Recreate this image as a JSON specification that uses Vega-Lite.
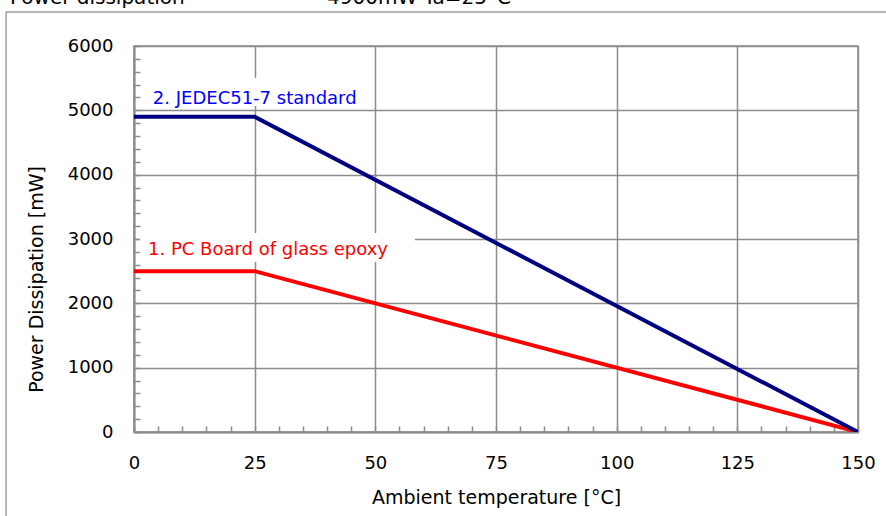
{
  "$schema": "https://vega.github.io/schema/vega-lite/v6.json",
  "width": 724,
  "height": 386,
  "autosize": {"type": "none"},
  "padding": {"left": 134, "top": 46, "right": 28, "bottom": 84},
  "background": "white",
  "config": {
    "font": "DejaVu Sans",
    "view": {"stroke": "#8c8c8c", "strokeWidth": 1.5}
  },
  "data": {
    "values": [
      {"series": "1. PC Board of glass epoxy", "temp": 0, "power": 2500},
      {"series": "1. PC Board of glass epoxy", "temp": 25, "power": 2500},
      {"series": "1. PC Board of glass epoxy", "temp": 150, "power": 0},
      {"series": "2. JEDEC51-7 standard", "temp": 0, "power": 4900},
      {"series": "2. JEDEC51-7 standard", "temp": 25, "power": 4900},
      {"series": "2. JEDEC51-7 standard", "temp": 150, "power": 0}
    ]
  },
  "layer": [
    {
      "mark": {"type": "line", "strokeWidth": 4, "clip": true},
      "encoding": {
        "x": {
          "field": "temp",
          "type": "quantitative",
          "scale": {"domain": [0, 150], "nice": false, "zero": false},
          "axis": {
            "title": "Ambient temperature [°C]",
            "values": [0,5,10,15,20,25,30,35,40,45,50,55,60,65,70,75,80,85,90,95,100,105,110,115,120,125,130,135,140,145,150],
            "tickCount": 60,
            "labelExpr": "datum.value % 25 === 0 ? datum.label : ''",
            "tickSize": -6,
            "tickColor": "#8c8c8c",
            "tickWidth": 1.5,
            "domainColor": "#8c8c8c",
            "domainWidth": 2,
            "gridColor": "#8c8c8c",
            "gridWidth": 1.5,
            "gridOpacity": {"condition": {"test": "datum.value % 25 === 0", "value": 1}, "value": 0},
            "labelFontSize": 18,
            "labelColor": "#000000",
            "labelBaseline": "alphabetic",
            "labelPadding": 42,
            "labelFlush": false,
            "labelOverlap": false,
            "titleFontSize": 19,
            "titleFontWeight": "normal",
            "titleColor": "#000000",
            "titleBaseline": "alphabetic",
            "titleY": 71
          }
        },
        "y": {
          "field": "power",
          "type": "quantitative",
          "scale": {"domain": [0, 6000], "nice": false, "zero": true},
          "axis": {
            "title": "Power Dissipation [mW]",
            "values": [0,200,400,600,800,1000,1200,1400,1600,1800,2000,2200,2400,2600,2800,3000,3200,3400,3600,3800,4000,4200,4400,4600,4800,5000,5200,5400,5600,5800,6000],
            "tickCount": 60,
            "labelExpr": "datum.value % 1000 === 0 ? datum.label : ''",
            "format": "d",
            "tickSize": -6,
            "tickColor": "#8c8c8c",
            "tickWidth": 1.5,
            "domainColor": "#8c8c8c",
            "domainWidth": 2,
            "gridColor": "#8c8c8c",
            "gridWidth": 1.5,
            "gridOpacity": {"condition": {"test": "datum.value % 1000 === 0", "value": 1}, "value": 0},
            "labelFontSize": 18,
            "labelColor": "#000000",
            "labelPadding": 27,
            "labelFlush": false,
            "labelOverlap": false,
            "titleFontSize": 19,
            "titleFontWeight": "normal",
            "titleColor": "#000000",
            "titleBaseline": "middle",
            "titleX": -98,
            "titleY": 233
          }
        },
        "color": {
          "field": "series",
          "type": "nominal",
          "scale": {"domain": ["1. PC Board of glass epoxy", "2. JEDEC51-7 standard"], "range": ["#ff0000", "#000080"]},
          "legend": null
        }
      }
    },
    {
      "data": {"values": [{}]},
      "mark": {"type": "rect", "fill": null, "filled": false, "stroke": "#a0a0a0", "strokeWidth": 1.5},
      "encoding": {
        "x": {"datum": -26.5, "type": "quantitative"},
        "x2": {"datum": 200},
        "y": {"datum": 6528, "type": "quantitative"},
        "y2": {"datum": -3000}
      }
    },
    {
      "data": {"values": [{}]},
      "mark": {"type": "rect", "fill": "white"},
      "encoding": {
        "x": {"datum": 2.3, "type": "quantitative"},
        "x2": {"datum": 46.8},
        "y": {"datum": 5502, "type": "quantitative"},
        "y2": {"datum": 5067}
      }
    },
    {
      "data": {"values": [{}]},
      "mark": {"type": "rect", "fill": "white"},
      "encoding": {
        "x": {"datum": 1.2, "type": "quantitative"},
        "x2": {"datum": 58.2},
        "y": {"datum": 3093, "type": "quantitative"},
        "y2": {"datum": 2642}
      }
    },
    {
      "data": {"values": [{}]},
      "mark": {"type": "text", "text": "2. JEDEC51-7 standard", "color": "#0000ff", "fontSize": 18, "align": "left", "baseline": "alphabetic"},
      "encoding": {
        "x": {"datum": 3.9, "type": "quantitative"},
        "y": {"datum": 5098, "type": "quantitative"}
      }
    },
    {
      "data": {"values": [{}]},
      "mark": {"type": "text", "text": "1. PC Board of glass epoxy", "color": "#ff0000", "fontSize": 18, "align": "left", "baseline": "alphabetic"},
      "encoding": {
        "x": {"datum": 2.9, "type": "quantitative"},
        "y": {"datum": 2751, "type": "quantitative"}
      }
    },
    {
      "data": {"values": [{}]},
      "mark": {"type": "text", "text": "Power dissipation", "color": "#000000", "fontSize": 20, "align": "left", "baseline": "alphabetic"},
      "encoding": {
        "x": {"datum": -25.7, "type": "quantitative"},
        "y": {"datum": 6653, "type": "quantitative"}
      }
    },
    {
      "data": {"values": [{}]},
      "mark": {"type": "text", "text": "4900mW  Ta=25°C", "color": "#000000", "fontSize": 20, "align": "left", "baseline": "alphabetic"},
      "encoding": {
        "x": {"datum": 40.0, "type": "quantitative"},
        "y": {"datum": 6653, "type": "quantitative"}
      }
    }
  ]
}
